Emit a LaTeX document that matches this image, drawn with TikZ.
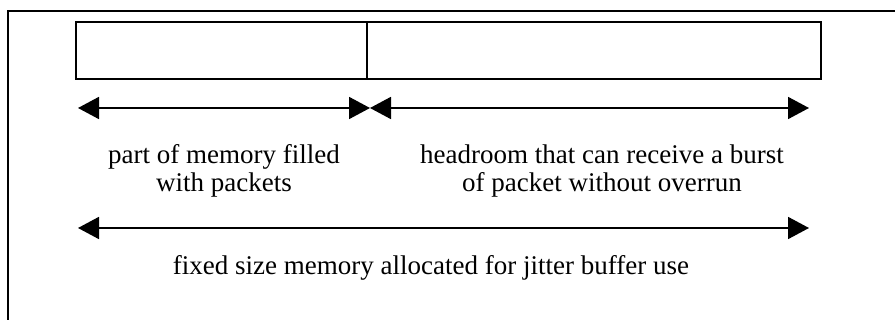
\documentclass[tikz,border=0pt]{standalone}
\usepackage{fontspec}
\setmainfont{Liberation Serif}
\usetikzlibrary{arrows.meta}
\begin{document}
\begin{tikzpicture}[x=1pt,y=-1pt,
  memblock/.style={draw,line width=1.6pt,minimum height=57pt,inner sep=0pt,outer sep=0pt},
  dimarrow/.style={line width=1.8pt,{Triangle[length=21pt,width=22pt]}-{Triangle[length=21pt,width=22pt]}},
  caption/.style={align=center,inner sep=0pt,font=\fontsize{27}{27.5}\selectfont}]
  \useasboundingbox (0,0) rectangle (895,320);
  % outer frame (only left and top edges fall inside the page)
  \draw[line width=2.4pt] (8,322) -- (8,11) -- (897,11);
  % memory block split into filled part and headroom
  \node[memblock,minimum width=291pt,anchor=north west] (filled) at (76,22) {};
  \node[memblock,minimum width=454pt,anchor=north west] (headroom) at (367,22) {};
  % dimension arrows
  \coordinate (lefttip) at (78,108);
  \coordinate (midtip) at (370,108);
  \coordinate (righttip) at (809,108);
  \coordinate (totleft) at (78,228);
  \coordinate (totright) at (809,228);
  \draw[dimarrow] (lefttip) -- (midtip);
  \draw[dimarrow] (midtip) -- (righttip);
  \draw[dimarrow] (totleft) -- (totright);
  % labels
  \node[caption] (lblfilled) at (224,171) {part of memory filled\\with packets};
  \node[caption] (lblhead) at (602,171) {headroom that can receive a burst\\of packet without overrun};
  \node[caption] (lbltotal) at (431,268) {fixed size memory allocated for jitter buffer use};
\end{tikzpicture}
\end{document}
